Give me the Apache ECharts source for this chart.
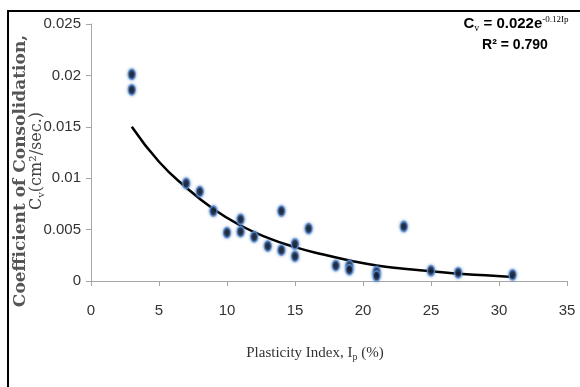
<!DOCTYPE html>
<html>
<head>
<meta charset="utf-8">
<script src="https://cdn.jsdelivr.net/npm/echarts@6/dist/echarts.min.js"></script>
<style>
  html, body { margin: 0; padding: 0; background: #fff; }
  #chart { width: 580px; height: 387px; }
</style>
</head>
<body>
<div id="chart"></div>
<script>
// measured samples: [plasticity index, Cv]
const samples = [
  [3, 0.0201], [3, 0.0186], [7, 0.0095], [8, 0.0087], [9, 0.0068],
  [10, 0.0047], [11, 0.0060], [11, 0.0048], [12, 0.0043], [13, 0.0034],
  [14, 0.0068], [14, 0.0030], [15, 0.0036], [15, 0.0024], [16, 0.0051],
  [18, 0.0015], [19, 0.0015], [19, 0.0011], [21, 0.0009], [21, 0.0005],
  [23, 0.0053], [25, 0.0010], [27, 0.0008], [31, 0.0006]
];
// trend curve
const trendX = [3, 5, 7, 9, 11, 13, 15, 17, 19, 21, 23, 25, 27, 29, 31];
const trendY = [0.0150, 0.0116, 0.0091, 0.0070, 0.0054, 0.0042, 0.0033, 0.0026,
                0.0020, 0.0015, 0.0012, 0.00095, 0.0007, 0.00055, 0.0004];
const xTicks = [0, 5, 10, 15, 20, 25, 30, 35];
const yTicks = [0, 0.005, 0.01, 0.015, 0.02, 0.025];

const tickFont = "'Liberation Sans Narrow', 'Liberation Sans', sans-serif";
const chart = echarts.init(document.getElementById("chart"), null, { renderer: "canvas" });

chart.setOption({
  animation: false,
  backgroundColor: "#fff",
  grid: { left: 91, right: 13, top: 24, bottom: 106 },
  xAxis: {
    type: "value",
    min: 0, max: 35, interval: 5,
    axisLine: { lineStyle: { color: "#a6a6a6", width: 1 } },
    axisTick: { show: true, length: 5, lineStyle: { color: "#a6a6a6" } },
    axisLabel: { color: "#333", fontSize: 15, fontFamily: tickFont, margin: 22,
      formatter: v => xTicks.includes(v) ? String(v) : "" },
    splitLine: { show: false }
  },
  yAxis: {
    type: "value",
    min: 0, max: 0.025, interval: 0.005,
    axisLine: { show: true, lineStyle: { color: "#a6a6a6", width: 1 } },
    axisTick: { show: true, length: 5, lineStyle: { color: "#a6a6a6" } },
    axisLabel: { color: "#333", fontSize: 15, fontFamily: tickFont, margin: 10,
      formatter: v => yTicks.includes(+v.toFixed(3)) ? String(+v.toFixed(3)) : "" },
    splitLine: { show: false }
  },
  series: [
    {
      type: "line",
      data: trendX.map((x, i) => [x, trendY[i]]),
      smooth: true,
      showSymbol: false,
      lineStyle: { color: "#000", width: 2.5 },
      z: 3
    },
    {
      type: "scatter",
      data: samples,
      symbol: "circle",
      symbolSize: [7, 10],
      itemStyle: {
        color: "#050510",
        borderColor: "#5b8fd6",
        borderWidth: 1.5,
        shadowBlur: 3,
        shadowColor: "rgba(79,129,189,0.9)"
      },
      z: 4
    }
  ],
  graphic: [
    {
      type: "rect",
      shape: { x: 8, y: 11, width: 620, height: 420 },
      style: { fill: "none", stroke: "#000", lineWidth: 2 },
      silent: true
    },
    {
      type: "text",
      x: 21, y: 171, rotation: Math.PI / 2,
      style: {
        text: "Coefficient of Consolidation,",
        fontFamily: "'DejaVu Serif', serif", fontSize: 17, fontWeight: "bold",
        fill: "#555", align: "center", verticalAlign: "middle"
      }
    },
    {
      type: "text",
      x: 37, y: 161, rotation: Math.PI / 2,
      style: {
        text: "C{s|v}(cm²/sec.)",
        fontFamily: "'DejaVu Serif', serif", fontSize: 16,
        fill: "#444", align: "center", verticalAlign: "middle",
        rich: { s: { fontSize: 10, padding: [8, 0, 0, 0],
          fontFamily: "'DejaVu Serif', serif", fill: "#444" } }
      }
    },
    {
      type: "text",
      x: 315, y: 353,
      style: {
        text: "Plasticity Index, I{s|p} (%)",
        fontFamily: "'Liberation Serif', serif", fontSize: 15,
        fill: "#333", align: "center", verticalAlign: "middle",
        rich: { s: { fontSize: 10, padding: [8, 0, 0, 0], fontFamily: "'Liberation Serif', serif", fill: "#333" } }
      }
    },
    {
      type: "text",
      x: 516, y: 24,
      style: {
        text: "C{s|v} = 0.022e{p|-0.12Ip}",
        fontFamily: tickFont, fontSize: 15, fontWeight: "bold",
        fill: "#000", align: "center", verticalAlign: "middle",
        rich: {
          s: { fontSize: 10, padding: [8, 0, 0, 0], fontFamily: "'Liberation Serif', serif", fill: "#000" },
          p: { fontSize: 9, padding: [0, 0, 8, 0], fontFamily: "'Liberation Serif', serif", fill: "#000" }
        }
      }
    },
    {
      type: "text",
      x: 515, y: 45,
      style: {
        text: "R² = 0.790",
        fontFamily: tickFont, fontSize: 14, fontWeight: "bold",
        fill: "#000", align: "center", verticalAlign: "middle"
      }
    }
  ]
});
</script>
</body>
</html>
